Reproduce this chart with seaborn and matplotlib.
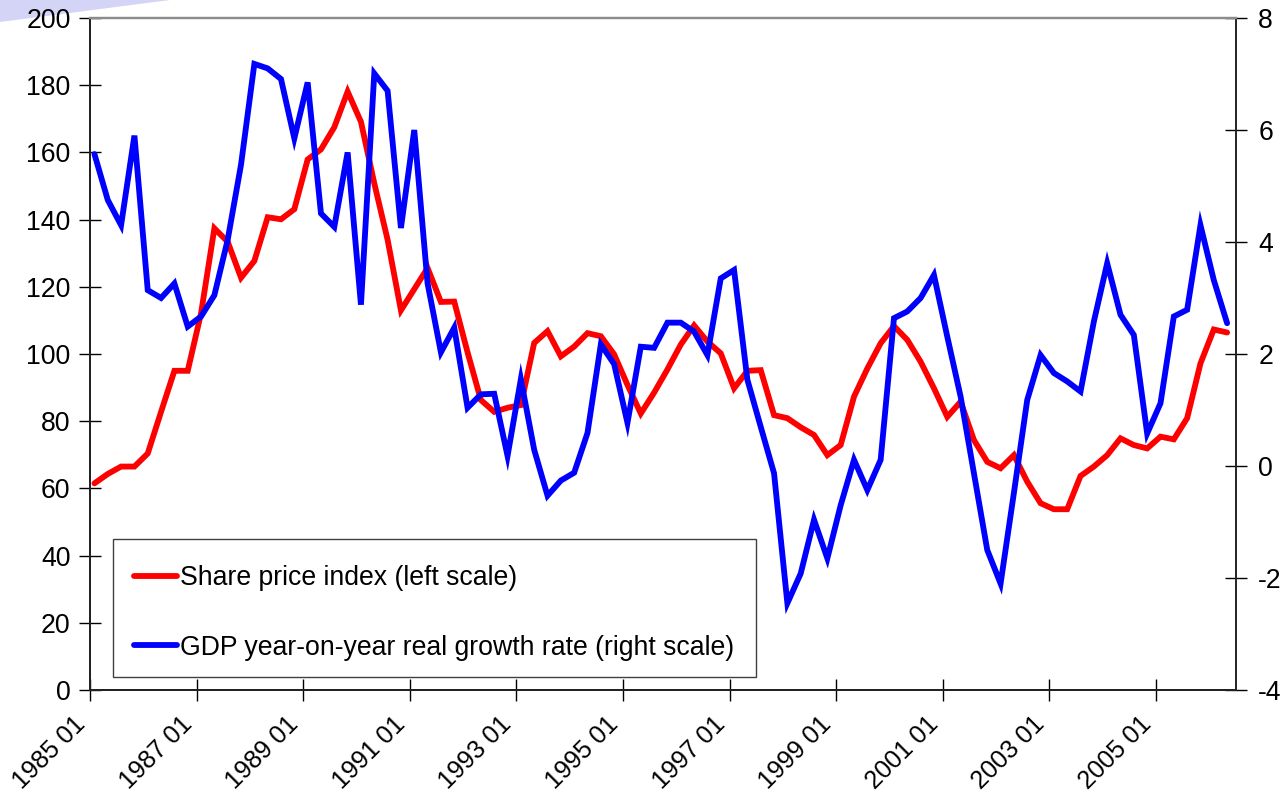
import matplotlib
matplotlib.use("Agg")
import matplotlib.pyplot as plt
from matplotlib.patches import Polygon
from matplotlib.transforms import Affine2D
import seaborn as sns
import pandas as pd

# quarterly data, 1985 Q1 .. 2006 Q2
start_quarter = "1985Q1"

share_price = [
    61.5, 64.3, 66.5, 66.5, 70.4, 82.8, 95.0, 95.0, 112.1, 137.4,
    133.4, 122.7, 127.7, 140.7, 140.1, 143.1, 157.9, 160.9, 167.5, 178.1,
    169.1, 150.8, 134.0, 113.0, 119.3, 125.6, 115.5, 115.6, 100.5, 86.3,
    82.8, 84.0, 84.8, 103.3, 106.8, 99.3, 102.2, 106.2, 105.3, 99.9,
    90.8, 82.3, 88.5, 95.4, 102.8, 108.5, 103.7, 100.2, 89.8, 95.0,
    95.2, 81.8, 80.9, 78.2, 75.9, 69.9, 72.9, 87.3, 95.7, 103.2,
    108.3, 104.2, 97.7, 89.8, 81.3, 85.8, 74.4, 67.9, 66.0, 69.9,
    62.0, 55.6, 53.8, 53.8, 63.7, 66.5, 69.9, 74.9, 72.9, 71.9,
    75.4, 74.6, 80.9, 97.2, 107.3, 106.4,
]

gdp_growth = [
    5.57, 4.75, 4.30, 5.90, 3.14, 3.00, 3.26, 2.49, 2.67, 3.05,
    4.04, 5.38, 7.18, 7.10, 6.91, 5.85, 6.85, 4.51, 4.27, 5.60,
    2.88, 7.01, 6.70, 4.25, 6.00, 3.26, 2.03, 2.47, 1.04, 1.28,
    1.29, 0.18, 1.55, 0.29, -0.53, -0.26, -0.12, 0.59, 2.17, 1.82,
    0.77, 2.13, 2.11, 2.56, 2.56, 2.40, 1.98, 3.35, 3.50, 1.54,
    0.70, -0.13, -2.45, -1.92, -0.96, -1.65, -0.70, 0.11, -0.43, 0.11,
    2.64, 2.76, 3.00, 3.41, 2.31, 1.24, -0.13, -1.50, -2.10, -0.48,
    1.18, 1.98, 1.66, 1.51, 1.33, 2.58, 3.62, 2.70, 2.34, 0.58,
    1.12, 2.67, 2.79, 4.30, 3.32, 2.55,
]

tick_years = list(range(1985, 2006, 2))
tick_labels = [f"{y} 01" for y in tick_years]

share_label = "Share price index (left scale)"
gdp_label = "GDP year-on-year real growth rate (right scale)"

# place each quarter on its middle month
periods = pd.period_range(start_quarter, periods=len(share_price), freq="Q")
df = pd.DataFrame({
    "x": periods.year + ((periods.quarter - 1) * 3 + 1) / 12,
    "share": share_price,
    "gdp": gdp_growth,
})

sns.set_style("white")
plt.rcParams["font.family"] = ["Liberation Sans", "DejaVu Sans"]
plt.rcParams["axes.unicode_minus"] = False
plt.rcParams["text.color"] = "black"
fs = 19.2

fig = plt.figure(figsize=(12.84, 8.01), dpi=100)
ax = fig.add_axes([90 / 1284, 1 - 690 / 801, 1146 / 1284, 672 / 801])
ax2 = ax.twinx()

sns.lineplot(data=df, x="x", y="share", ax=ax, color="#ff0000", lw=4.2,
             legend=False, solid_joinstyle="miter")
sns.lineplot(data=df, x="x", y="gdp", ax=ax2, color="#0000ff", lw=4.2,
             legend=False, solid_joinstyle="miter")

ax.set_xlim(1985, 2006.5)
ax.set_ylim(0, 200)
ax.set_yticks(range(0, 201, 20))
ax2.set_ylim(-4, 8)
ax2.set_yticks(range(-4, 9, 2))
ax.set_xticks(tick_years)
ax.set_xticklabels(tick_labels)
ax.set_xlabel("")
ax.set_ylabel("")
ax2.set_ylabel("")

ax.tick_params(axis="y", direction="inout", length=16, width=1, pad=6,
               labelsize=fs, left=True, colors="black")
ax.tick_params(axis="x", direction="inout", length=16, width=1, pad=20,
               labelsize=18.2, bottom=True, colors="black")
ax2.tick_params(axis="y", direction="inout", length=16, width=1, pad=8,
                labelsize=fs, right=True, colors="black")
plt.setp(ax.get_xticklabels(), rotation=45, ha="right", va="bottom",
         rotation_mode="anchor")

for a in (ax, ax2):
    for side in ("left", "bottom", "right"):
        a.spines[side].set_color("#222222")
        a.spines[side].set_linewidth(1.4)
    a.spines["top"].set_color("#8c8c8c")
    a.spines["top"].set_linewidth(1.6)
ax.spines["right"].set_visible(False)

handles = [ax.get_lines()[0], ax2.get_lines()[0]]
leg = ax2.legend(handles, [share_label, gdp_label], loc="lower left",
                 bbox_to_anchor=(23 / 1146, 13 / 672), borderaxespad=0,
                 fontsize=fs, frameon=True, fancybox=False, framealpha=1,
                 edgecolor="#404040", borderpad=0.8, labelspacing=1.62,
                 handlelength=1.6, handletextpad=0.12, labelcolor="black")
leg.get_frame().set_linewidth(1.0)
# nudge the legend rows a little lower inside the frame
shift = Affine2D().translate(0, -5)
for artist in list(leg.get_texts()) + list(leg.get_lines()):
    artist.set_transform(artist.get_transform() + shift)

# faint decoration in the top-left corner of the original
fig.patches.append(Polygon([(0, 1), (170 / 1284, 1), (0, 1 - 22 / 801)],
                           closed=True, transform=fig.transFigure,
                           facecolor="#d4d4f6", edgecolor="none", zorder=-1))

fig.savefig("out.png", dpi=100, facecolor="white")
